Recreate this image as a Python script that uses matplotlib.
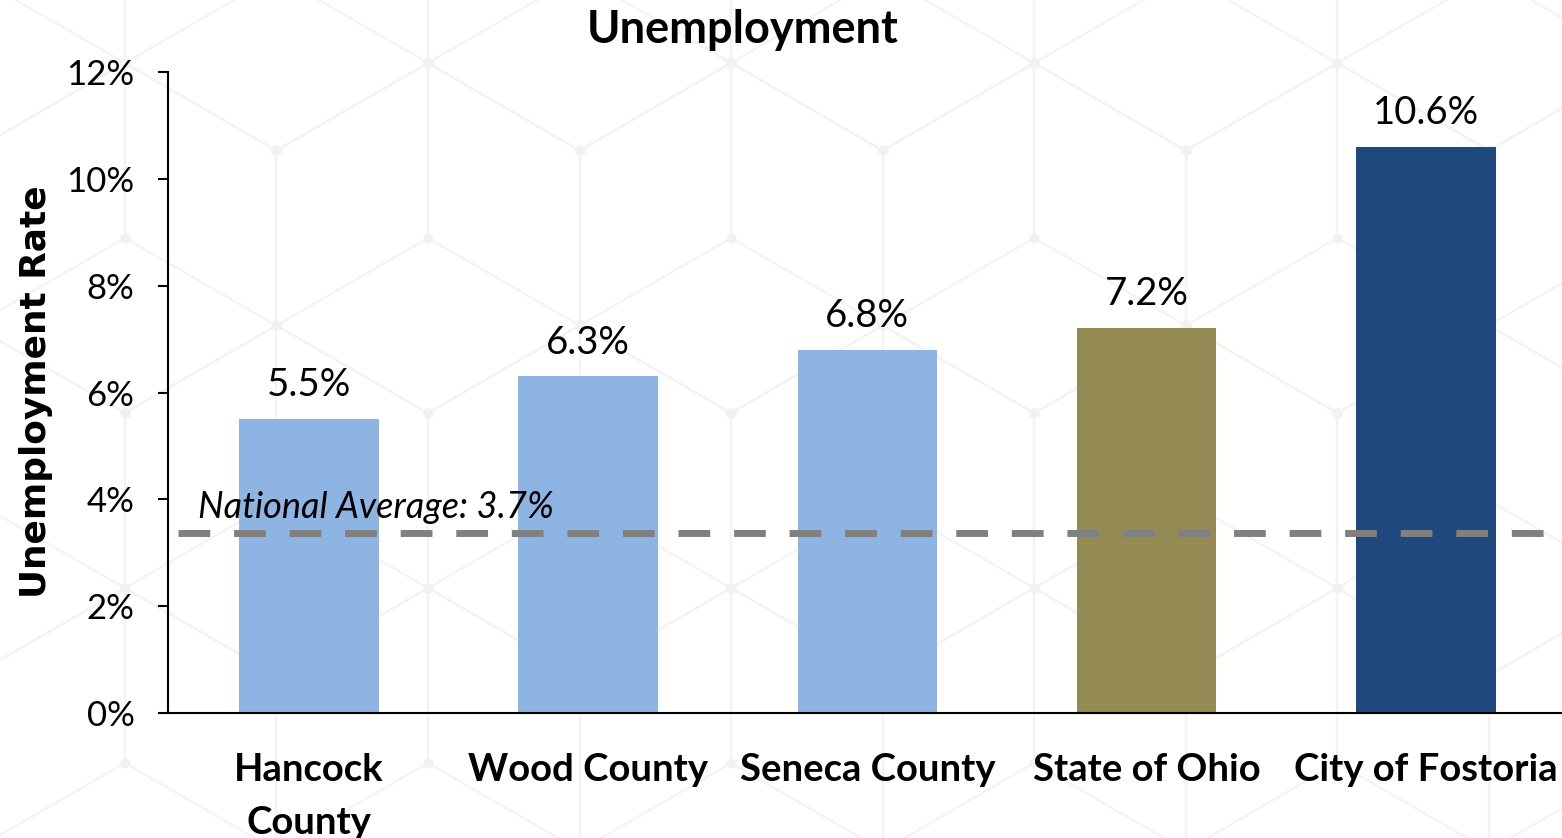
import numpy as np
import matplotlib
matplotlib.use("Agg")
import matplotlib.pyplot as plt
from matplotlib.ticker import FuncFormatter
from matplotlib.collections import LineCollection

categories = ["Hancock\nCounty", "Wood County", "Seneca County", "State of Ohio", "City of Fostoria"]
values = [5.5, 6.3, 6.8, 7.2, 10.6]
value_labels = ["5.5%", "6.3%", "6.8%", "7.2%", "10.6%"]
bar_colors = ["#8EB4E3", "#8EB4E3", "#8EB4E3", "#948A54", "#1F497D"]
national_avg_line = 3.37
national_avg_text = "National Average: 3.7%"
yticks = [0, 2, 4, 6, 8, 10, 12]

plt.rcParams['font.family'] = ['Lato', 'DejaVu Sans']

W, H = 1562, 838
fig = plt.figure(figsize=(W / 100, H / 100), dpi=100)

# faint decorative "tumbling blocks" background pattern (pixel coords)
s = 175.0
hw = s * np.sqrt(3) / 2
segs = []
nodes = []
for r in range(-2, 6):
    cy = 238 + r * 1.5 * s
    off = 0 if r % 2 == 0 else -hw
    for c in range(-2, 8):
        cx = 428 + off + c * 2 * hw
        verts = [(cx, cy - s), (cx + hw, cy - s / 2), (cx + hw, cy + s / 2),
                 (cx, cy + s), (cx - hw, cy + s / 2), (cx - hw, cy - s / 2)]
        for i in range(6):
            segs.append([verts[i], verts[(i + 1) % 6]])
        segs.append([(cx, cy), verts[0]])
        segs.append([(cx, cy), verts[2]])
        segs.append([(cx, cy), verts[4]])
        nodes.append((cx, cy))
        nodes.extend(verts)
segs_fig = [[(x0 / W, 1 - y0 / H), (x1 / W, 1 - y1 / H)] for (x0, y0), (x1, y1) in segs]
lc = LineCollection(segs_fig, colors="#F3F3F3", linewidths=1.6, transform=fig.transFigure, zorder=0)
fig.add_artist(lc)
nx = [p[0] / W for p in nodes]
ny = [1 - p[1] / H for p in nodes]
fig.add_artist(matplotlib.lines.Line2D(nx, ny, ls="none", marker="h", ms=8, mfc="#F1F1F1",
                                       mec="none", transform=fig.transFigure, zorder=0))

ax = fig.add_axes([168 / W, 1 - 713 / H, (W - 168) / W, (713 - 72) / H])
ax.set_facecolor("none")
ax.set_zorder(1)

x = list(range(len(categories)))
ax.bar(x, values, width=0.5, color=bar_colors, zorder=2)
for xi, v, lab in zip(x, values, value_labels):
    ax.annotate(lab, (xi, v), xytext=(0, 16.5), textcoords="offset points",
                ha="center", va="baseline", fontsize=27.5, color="black")

ax.axhline(national_avg_line, color="#808080", lw=5, dashes=(4.57, 3.43), zorder=3,
           xmin=0.007, xmax=1)
ax.text(-0.398, 3.65, national_avg_text, style="italic", fontsize=26, ha="left",
        va="baseline", zorder=4)

ax.set_xlim(-0.505, 4.488)
ax.set_ylim(0, 12)
ax.set_yticks(yticks)
ax.yaxis.set_major_formatter(FuncFormatter(lambda v, p: f"{v:.0f}%"))
ax.tick_params(axis="y", length=7.2, width=1.5, pad=17, labelsize=25)
ax.tick_params(axis="x", length=0, pad=29, labelsize=27.5)
ax.set_xticks(x)
ax.set_xticklabels(categories, fontweight="bold", linespacing=1.68)
for sp in ["top", "right"]:
    ax.spines[sp].set_visible(False)
for sp in ["left", "bottom"]:
    ax.spines[sp].set_linewidth(1.5)

fig.text(36 / W, 1 - 392 / H, "Unemployment Rate", fontsize=25.8, fontweight="bold",
         family="DejaVu Sans", rotation=90, ha="center", va="center")
fig.text(743 / W, 1 - 43 / H, "Unemployment", fontsize=32.5, fontweight="bold",
         ha="center", va="baseline")

fig.savefig("out.png", dpi=100)
